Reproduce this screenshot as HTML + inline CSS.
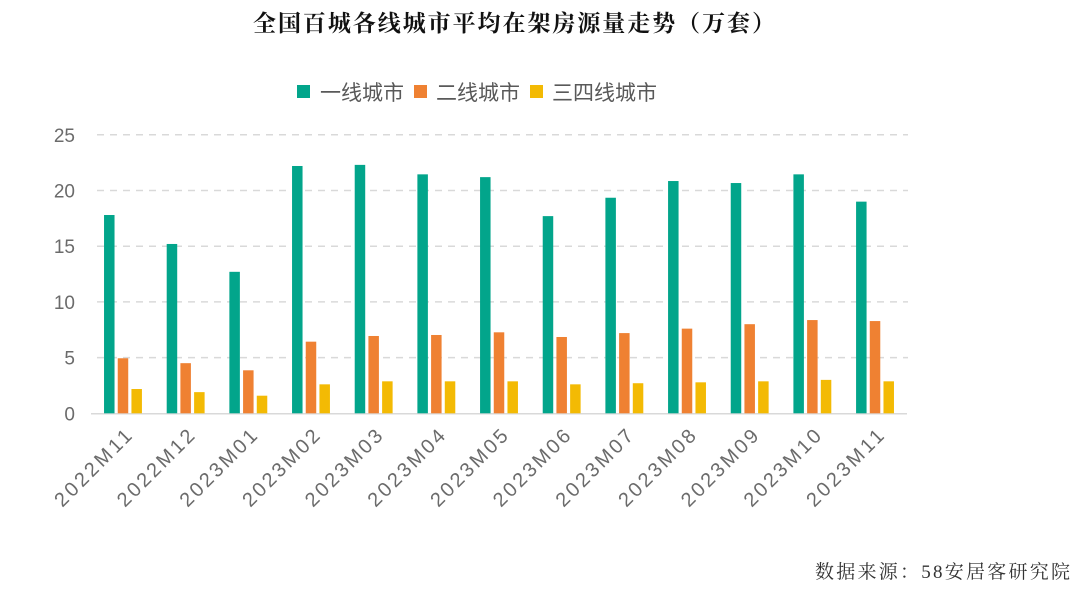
<!DOCTYPE html>
<html><head><meta charset="utf-8"><style>
body{margin:0;background:#fff;width:1080px;height:586px;overflow:hidden}
svg text{font-family:"Liberation Sans","Noto Sans CJK SC",sans-serif}
</style></head><body>
<svg id="chart" width="1080" height="586" xmlns="http://www.w3.org/2000/svg">
<text x="253" y="31" textLength="522" lengthAdjust="spacing" font-size="23" font-weight="bold" fill="#111" style="font-family:'Liberation Serif','Noto Serif CJK SC',serif">全国百城各线城市平均在架房源量走势（万套）</text>
<g>
<g><rect x="297" y="85" width="13" height="13" fill="#02A58B"/><text x="320" y="100" font-size="21" fill="#595959">一线城市</text></g>
<g><rect x="414" y="85" width="13" height="13" fill="#EF8132"/><text x="436" y="100" font-size="21" fill="#595959">二线城市</text></g>
<g><rect x="530" y="85" width="13" height="13" fill="#F3BA04"/><text x="552" y="100" font-size="21" fill="#595959">三四线城市</text></g>
</g>
<g id="grid"></g><g id="bars"></g><g id="xlab"></g><g id="ylab"></g>
<text x="815" y="578" textLength="255" lengthAdjust="spacing" font-size="19" fill="#333" style="font-family:'Liberation Serif','Noto Serif CJK SC',serif">数据来源：58安居客研究院</text>
</svg>
<script>
const categories=["2022M11","2022M12","2023M01","2023M02","2023M03","2023M04","2023M05","2023M06","2023M07","2023M08","2023M09","2023M10","2023M11"];
const tier1=[17.8,15.2,12.7,22.2,22.3,21.45,21.2,17.7,19.35,20.85,20.67,21.45,19.0];
const tier2=[4.94,4.5,3.86,6.43,6.94,7.03,7.27,6.85,7.2,7.6,8.0,8.37,8.28];
const tier34=[2.18,1.9,1.58,2.6,2.87,2.87,2.87,2.6,2.7,2.78,2.87,3.0,2.87];
const yTicks=[0,5,10,15,20,25];
const NS="http://www.w3.org/2000/svg";
const x0=91.7,step=62.67,yBase=413.3,ppu=11.14;
const y=v=>yBase-v*ppu;
const xc=i=>x0+step*(i+0.5);
function mk(t,a,p){const e=document.createElementNS(NS,t);for(const k in a)e.setAttribute(k,a[k]);p.appendChild(e);return e;}
const grid=document.getElementById('grid'),bars=document.getElementById('bars'),xl=document.getElementById('xlab'),yl=document.getElementById('ylab');
yTicks.forEach(t=>{
 if(t>0){const l=mk('line',{x1:97,x2:908,y1:y(t),y2:y(t),stroke:'#d9d9d9','stroke-width':1.5,'stroke-dasharray':'7,6'},grid);
 
 }
 const tx=mk('text',{x:75,y:y(t)+7,'text-anchor':'end','font-size':19,fill:'#6b6b6b'},yl);tx.textContent=t;
 
 
});
const ax=mk('line',{x1:91,x2:907,y1:yBase+0.5,y2:yBase+0.5,stroke:'#d9d9d9','stroke-width':1.5},grid);


const series=[[tier1,'#02A58B','tier1'],[tier2,'#EF8132','tier2'],[tier34,'#F3BA04','tier34']];
categories.forEach((c,i)=>{
 series.forEach((s,j)=>{
  const v=s[0][i];const bx=xc(i)-19+j*13.7;
  const r=mk('rect',{x:bx,y:y(v),width:10.5,height:v*ppu,fill:s[1]},bars);
  
  
 });
 const tx=mk('text',{x:0,y:0,'text-anchor':'end','font-size':20,fill:'#6b6b6b',textLength:100,lengthAdjust:'spacing',transform:`translate(${xc(i)+10},${yBase+24}) rotate(-45)`},xl);
 tx.textContent=c;
 
 
});
</script>
</body></html>
